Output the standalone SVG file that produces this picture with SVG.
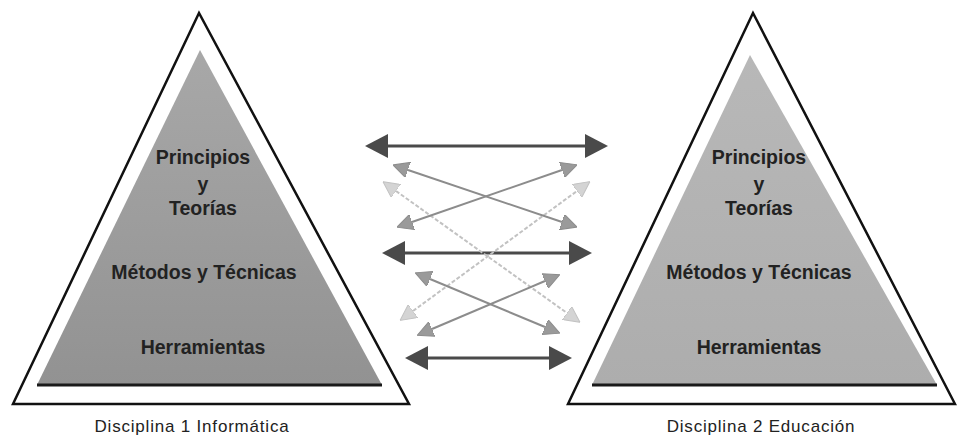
<svg xmlns="http://www.w3.org/2000/svg" width="957" height="438" viewBox="0 0 957 438">
<style>
.outer{fill:#fff;stroke:#111;stroke-width:2.5;stroke-linejoin:miter}
.base{stroke:#1a1a1a;stroke-width:3}
.lbl{font-family:"Liberation Sans",Arial,sans-serif;font-weight:bold;font-size:19.5px;fill:#222;text-anchor:middle}
.cap{font-family:"Liberation Sans",Arial,sans-serif;font-size:17px;fill:#222;text-anchor:middle;letter-spacing:0.8px}
.dark{stroke:#4a4a4a;stroke-width:3;fill:none}
.mid{stroke:#8c8c8c;stroke-width:2;fill:none}
.light{stroke:#c2c2c2;stroke-width:2;fill:none;stroke-dasharray:4 2}
</style>
<defs>
<linearGradient id="gL" x1="0" y1="0" x2="0" y2="1">
<stop offset="0" stop-color="#a8a8a8"/><stop offset="1" stop-color="#929292"/>
</linearGradient>
<linearGradient id="gR" x1="0" y1="0" x2="0" y2="1">
<stop offset="0" stop-color="#b8b8b8"/><stop offset="1" stop-color="#adadad"/>
</linearGradient>
<marker id="hd" markerUnits="userSpaceOnUse" markerWidth="23" markerHeight="24" refX="0" refY="12" orient="auto-start-reverse">
<path d="M0,0 L23,12 L0,24 z" fill="#4a4a4a"/>
</marker>
<marker id="hm" markerUnits="userSpaceOnUse" markerWidth="16" markerHeight="16" refX="0" refY="8" orient="auto-start-reverse">
<path d="M0,0 L16,8 L0,16 z" fill="#9a9a9a" stroke="#8c8c8c" stroke-width="1"/>
</marker>
<marker id="hl" markerUnits="userSpaceOnUse" markerWidth="16" markerHeight="16" refX="0" refY="8" orient="auto-start-reverse">
<path d="M0,0 L16,8 L0,16 z" fill="#d4d4d4" stroke="#c2c2c2" stroke-width="1"/>
</marker>
</defs>
<g id="disciplina1">
<polygon class="outer" points="199,13 13,404 409,404"/>
<polygon points="200,50 37,385 382,385" fill="url(#gL)"/>
<line class="base" x1="37" y1="385" x2="382" y2="385"/>
<text class="lbl" x="203" y="164">Principios</text>
<text class="lbl" x="203" y="191">y</text>
<text class="lbl" x="203" y="215">Teorías</text>
<text class="lbl" x="204" y="279">Métodos y Técnicas</text>
<text class="lbl" x="203" y="354">Herramientas</text>
<text class="cap" x="192" y="432">Disciplina 1 Informática</text>
</g>
<g id="disciplina2">
<polygon class="outer" points="753,13 568,404 955,404"/>
<polygon points="750,55 592,385 937,385" fill="url(#gR)"/>
<line class="base" x1="592" y1="385" x2="937" y2="385"/>
<text class="lbl" x="759" y="164">Principios</text>
<text class="lbl" x="759" y="191">y</text>
<text class="lbl" x="759" y="215">Teorías</text>
<text class="lbl" x="759" y="279">Métodos y Técnicas</text>
<text class="lbl" x="759" y="354">Herramientas</text>
<text class="cap" x="761" y="432">Disciplina 2 Educación</text>
</g>
<g id="connectors">
<line class="dark" x1="388" y1="146" x2="585" y2="146" marker-start="url(#hd)" marker-end="url(#hd)"/>
<line class="dark" x1="405" y1="253" x2="569" y2="253" marker-start="url(#hd)" marker-end="url(#hd)"/>
<line class="dark" x1="428" y1="358" x2="549" y2="358" marker-start="url(#hd)" marker-end="url(#hd)"/>
<line class="light" x1="396" y1="191" x2="567" y2="313" marker-start="url(#hl)" marker-end="url(#hl)"/>
<line class="light" x1="413" y1="311" x2="577" y2="191" marker-start="url(#hl)" marker-end="url(#hl)"/>
<line class="mid" x1="408" y1="170" x2="562" y2="222" marker-start="url(#hm)" marker-end="url(#hm)"/>
<line class="mid" x1="412" y1="222" x2="562" y2="170" marker-start="url(#hm)" marker-end="url(#hm)"/>
<line class="mid" x1="430" y1="279" x2="545" y2="327" marker-start="url(#hm)" marker-end="url(#hm)"/>
<line class="mid" x1="432" y1="329" x2="545" y2="281" marker-start="url(#hm)" marker-end="url(#hm)"/>
</g>
</svg>
